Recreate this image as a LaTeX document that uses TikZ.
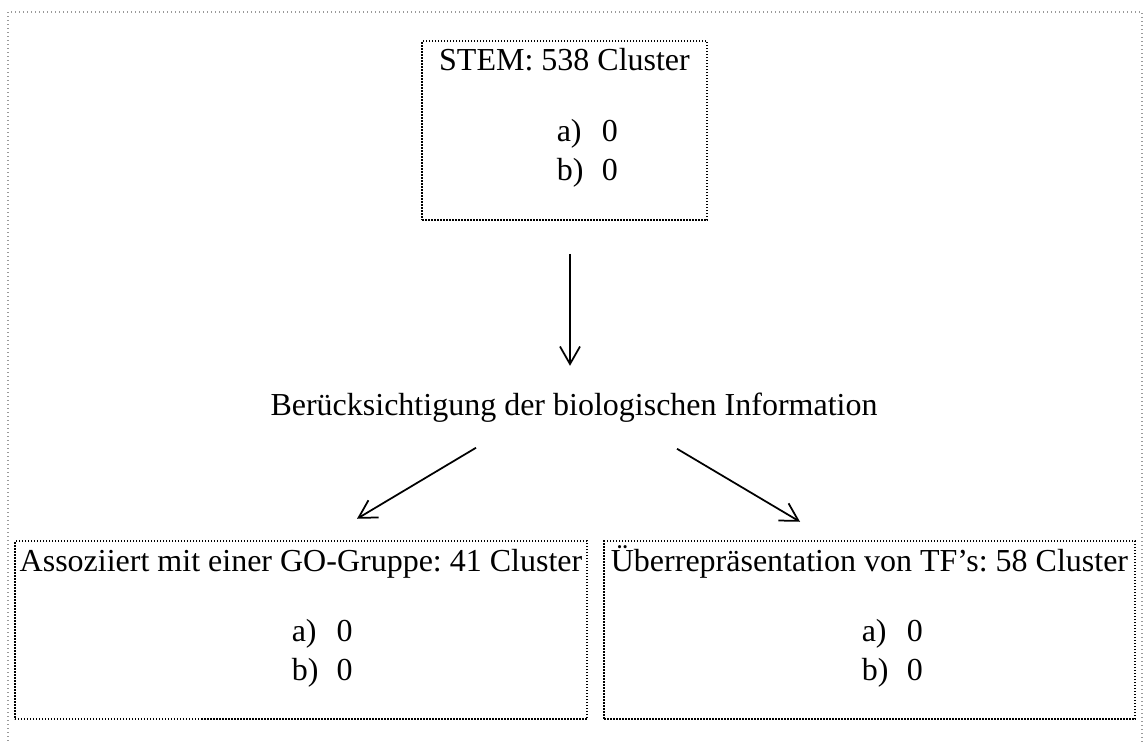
\documentclass[tikz,border=0pt]{standalone}
\usepackage{fontspec}
\setmainfont{Liberation Serif}
\usetikzlibrary{positioning,arrows.meta,calc}
\definecolor{framegray}{HTML}{9A9A9A}
\frenchspacing

\begin{document}
\begin{tikzpicture}[x=0.4pt,y=-0.4pt,font=\fontsize{12.8}{15}\selectfont,
  box/.style={draw,line width=0.6pt,dash pattern=on 0.6pt off 0.6pt,inner sep=0pt},
  arr/.style={-{Straight Barb[length=7pt,width=8pt]},line width=0.7pt},
  item/.style={anchor=base west,inner sep=0pt}]

\useasboundingbox (0,0) rectangle (1145,743);
\draw[framegray,line width=0.5pt,dash pattern=on 0.5pt off 1.1pt] (8,12) rectangle (1142,770);

% boxes
\node[box,minimum width=114pt,minimum height=71.6pt] (stem) at (564.5,130.5) {};
\node[box,minimum width=228.8pt,minimum height=71.2pt] (go) at (301,630) {};
\node[box,minimum width=212.4pt,minimum height=71.2pt] (tf) at (869.5,630) {};

\node[anchor=base] (stemtitle) at ($(stem.north)+(0,30)$) {STEM: 538 Cluster};
\node[anchor=base] (gotitle) at ($(go.north)+(0,31)$) {Assoziiert mit einer GO-Gruppe: 41 Cluster};
\node[anchor=base] (tftitle) at ($(tf.north)+(0,31)$) {Überrepräsentation von TF’s: 58 Cluster};

\foreach \b/\dx in {stem/135,go/277,tf/258}{
  \foreach \l/\dy in {a/101,b/140}{
    \node[item] (\b-\l) at ($(\b.north west)+(\dx,\dy)$) {\makebox[18pt][l]{\l)}0};
  }
}

\node[anchor=base] (info) at (574,415) {Berücksichtigung der biologischen Information};

% arrows
\draw[arr] (stem.south) ++(5.5,33) -- ++(0,112);
\draw[arr] (info.south) ++(-98,17) -- ++(-119,71);
\draw[arr] (info.south) ++(103,18) -- ++(123,73);

\end{tikzpicture}
\end{document}
